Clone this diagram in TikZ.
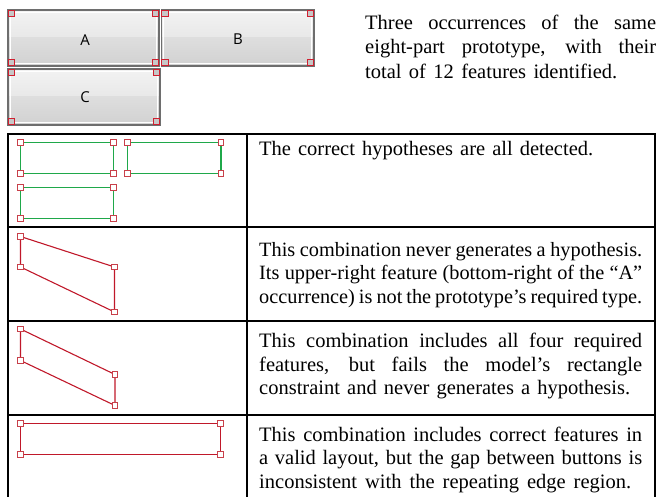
\documentclass[tikz,border=0pt]{standalone}
\usepackage{fontspec}
\setmainfont{Liberation Serif}
\newfontfamily\btnfont{Open Sans}
\definecolor{btnborder}{HTML}{6E6E6E}
\definecolor{cornerred}{HTML}{D02030}
\definecolor{mkred}{HTML}{C8404A}
\definecolor{gline}{HTML}{1FA84A}
\definecolor{rline}{HTML}{C0182A}
\newlength{\colw}
\setlength{\colw}{383pt}
\newlength{\introw}
\setlength{\introw}{291pt}
\newcommand{\natsp}{\spaceskip=0pt\xspaceskip=0pt\relax}
\newcommand{\wl}[2]{{\natsp\hbox to #1{#2}}\par}
\tikzset{
  btnlabel/.style={font=\btnfont\fontsize{15}{17}\selectfont, inner sep=0pt},
  cornerbox/.style={draw=cornerred, line width=1.4pt, fill=black!22, minimum size=6.5pt, inner sep=0pt},
  mk/.style={draw=mkred, line width=0.9pt, fill=white, minimum size=5.5pt, inner sep=0pt},
  celltext/.style={anchor=base west, inner sep=0pt, text width=400pt, font=\fontsize{20.5}{23.5}\selectfont},
  tbl/.style={line width=2pt, black},
  gl/.style={draw=gline, line width=1.1pt},
  rl/.style={draw=rline, line width=1.1pt}
}
\newcommand{\drawbutton}[5]{% name, x1, y1, x2, y2
  \shade[top color=black!5, bottom color=black!9] (#2,#3) rectangle (#4,{(#3+#5)/2});
  \shade[top color=black!13, bottom color=black!18] (#2,{(#3+#5)/2}) rectangle (#4,#5);
  \draw[white, line width=1pt] ({#2+2.2},{#3+2.2}) rectangle ({#4-2.2},{#5-2.2});
  \draw[btnborder, line width=1.6pt] (#2,#3) rectangle (#4,#5);
  \node[cornerbox] (#1tl) at ({#2+3.5},{#3+3.5}) {};
  \node[cornerbox] (#1tr) at ({#4-3.5},{#3+3.5}) {};
  \node[cornerbox] (#1bl) at ({#2+3.5},{#5-3.5}) {};
  \node[cornerbox] (#1br) at ({#4-3.5},{#5-3.5}) {};
}
\begin{document}
\begin{tikzpicture}[x=1pt,y=-1pt]
\useasboundingbox (0,0) rectangle (658,497);
% buttons
\drawbutton{A}{8}{10}{159}{66}
\drawbutton{B}{161.5}{10}{314}{66}
\drawbutton{C}{8}{69}{160}{125}
\node[btnlabel] (labA) at (85,40) {A};
\node[btnlabel] (labB) at (238,39) {B};
\node[btnlabel] (labC) at (85,97) {C};
% top text
\node[anchor=base west, inner sep=0pt, text width=300pt, font=\fontsize{20.5}{24.5}\selectfont] (intro) at (365,29.5)
 {\wl{\introw}{Three occurrences of the same}\wl{\introw}{eight-part prototype, with their}\wl{252pt}{total of 12 features identified.}};
% table
\draw[tbl] (8,134) rectangle (655,502);
\draw[tbl] (8,227) -- (655,227);
\draw[tbl] (8,321) -- (655,321);
\draw[tbl] (8,415) -- (655,415);
\draw[tbl] (247,134) -- (247,502);
% row 1
\coordinate (g1a) at (20.5,142.5); \coordinate (g1b) at (113.5,142.5);
\coordinate (g1c) at (113.5,173.5); \coordinate (g1d) at (20.5,173.5);
\coordinate (g2a) at (127.5,142.5); \coordinate (g2b) at (221,142.5);
\coordinate (g2c) at (221,173.5); \coordinate (g2d) at (127.5,173.5);
\coordinate (g3a) at (20.5,187.5); \coordinate (g3b) at (113.5,187.5);
\coordinate (g3c) at (113.5,218.5); \coordinate (g3d) at (20.5,218.5);
\draw[gl] (g1a) -- (g1b) -- (g1c) -- (g1d) -- cycle;
\draw[gl] (g2a) -- (g2b) -- (g2c) -- (g2d) -- cycle;
\draw[gl] (g3a) -- (g3b) -- (g3c) -- (g3d) -- cycle;
\foreach \p in {g1a,g1b,g1c,g1d,g2a,g2b,g2c,g2d,g3a,g3b,g3c,g3d} {\node[mk] (m\p) at (\p) {};}
% row 2
\coordinate (p2a) at (20.5,236.5); \coordinate (p2b) at (114.5,267);
\coordinate (p2c) at (114.5,312); \coordinate (p2d) at (20.5,267);
\draw[rl] (p2a) -- (p2b) -- (p2c) -- (p2d) -- cycle;
\foreach \p in {p2a,p2b,p2c,p2d} {\node[mk] (m\p) at (\p) {};}
% row 3
\coordinate (p3a) at (20.5,329); \coordinate (p3b) at (115,374.5);
\coordinate (p3c) at (115,405.5); \coordinate (p3d) at (20.5,360.5);
\draw[rl] (p3a) -- (p3b) -- (p3c) -- (p3d) -- cycle;
\foreach \p in {p3a,p3b,p3c,p3d} {\node[mk] (m\p) at (\p) {};}
% row 4
\coordinate (p4a) at (20.5,423.5); \coordinate (p4b) at (220.5,423.5);
\coordinate (p4c) at (220.5,454.5); \coordinate (p4d) at (20.5,454.5);
\draw[rl] (p4a) -- (p4b) -- (p4c) -- (p4d) -- cycle;
\foreach \p in {p4a,p4b,p4c,p4d} {\node[mk] (m\p) at (\p) {};}
% cell texts
\node[celltext] (t1) at (259,155.5) {\wl{334pt}{The correct hypotheses are all detected.}};
\node[celltext, font=\fontsize{20.3}{23.5}\selectfont] (t2) at (259,256) {\wl{\colw}{This combination never generates a hypothesis.}\wl{\colw}{Its upper-right feature (bottom-right of the “A”}\wl{\colw}{occurrence) is not the prototype’s required type.}};
\node[celltext] (t3) at (259,347.5) {\wl{\colw}{This combination includes all four required}\wl{\colw}{features, but fails the model’s rectangle}\wl{371pt}{constraint and never generates a hypothesis.}};
\node[celltext] (t4) at (259,441) {\wl{\colw}{This combination includes correct features in}\wl{\colw}{a valid layout, but the gap between buttons is}\wl{372pt}{inconsistent with the repeating edge region.}};
\end{tikzpicture}
\end{document}
